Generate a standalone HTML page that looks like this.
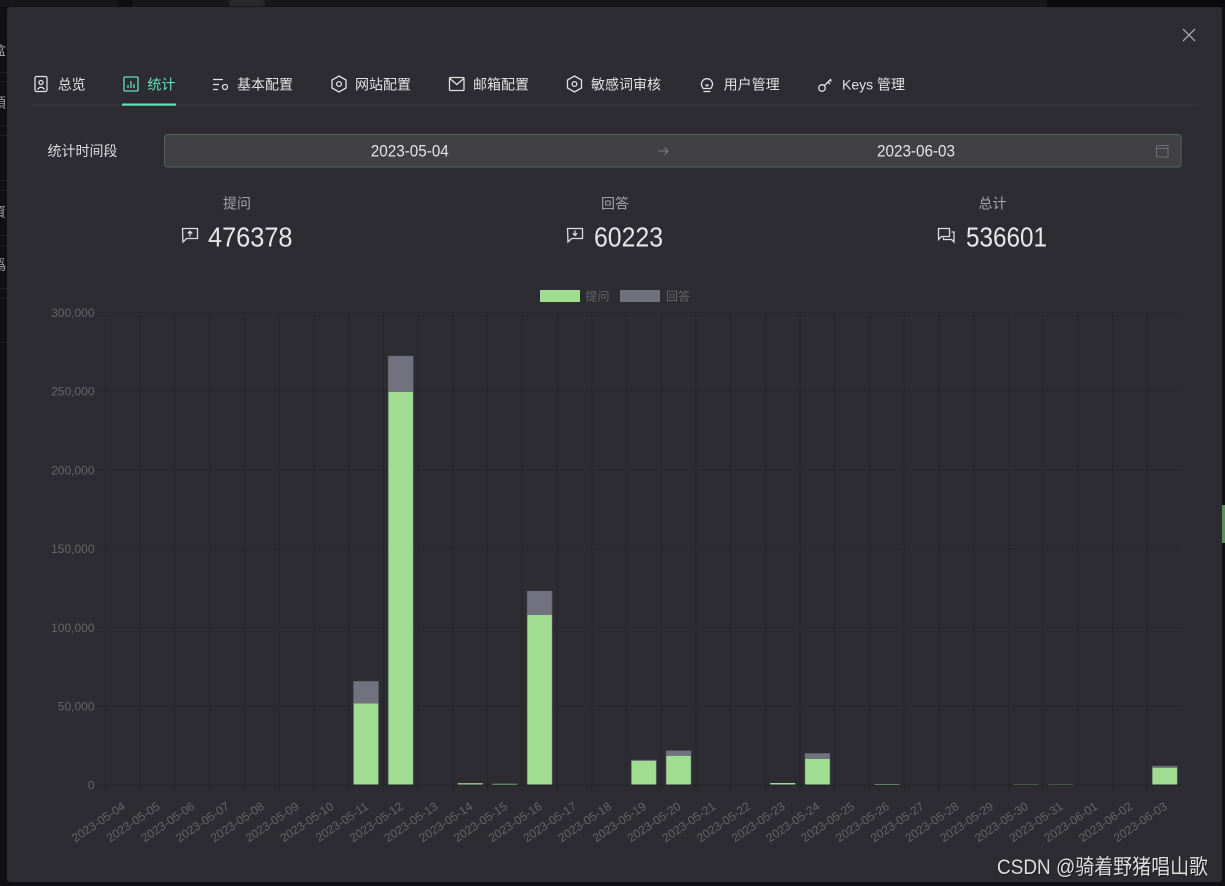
<!DOCTYPE html>
<html><head><meta charset="utf-8"><style>
html,body{margin:0;padding:0;background:#101014;width:1225px;height:886px;overflow:hidden}
svg{display:block}
text{font-family:"Liberation Sans","Noto Sans CJK SC",sans-serif}
</style></head><body>
<svg width="1225" height="886" viewBox="0 0 1225 886" xmlns="http://www.w3.org/2000/svg">
<!-- backdrop -->
<rect x="0" y="0" width="1225" height="886" fill="#101014"/>
<rect x="0" y="0" width="1047" height="7" fill="#17171a"/>
<rect x="1047" y="0" width="178" height="7" fill="#0b0b0d"/>
<rect x="118" y="0" width="15" height="7" fill="#0f0f11"/>
<rect x="229" y="0" width="36" height="6" rx="3" fill="#2a2a2e"/>
<rect x="1222" y="505" width="3" height="38" fill="#5b8f5b"/>
<g fill="#9a9a9a" font-size="14">
<text x="-8" y="55">盒</text><text x="-8" y="108">領</text><text x="-8" y="217">資</text><text x="-8" y="270">僞</text>
</g>
<g stroke="#202024" stroke-width="1">
<path d="M0 72.5H7M0 81.5H7M0 125.5H7M0 135.5H7M0 180.5H7M0 190.5H7M0 235.5H7M0 245.5H7M0 288.5H7M0 298.5H7M0 342.5H7"/>
</g>

<!-- modal -->
<rect x="7" y="7" width="1215" height="875" rx="3" fill="#2c2c32"/>

<!-- close -->
<path d="M1183 29L1195 41M1195 29L1183 41" stroke="#a6a6aa" stroke-width="1.3" fill="none"/>

<!-- tabs -->
<g font-size="14" fill="#e2e2e4">
<text x="57.7" y="89.5">总览</text>
<text x="147.4" y="89.5" fill="#63e2b7">统计</text>
<text x="237" y="89.5">基本配置</text>
<text x="355" y="89.5">网站配置</text>
<text x="473" y="89.5">邮箱配置</text>
<text x="591" y="89.5">敏感词审核</text>
<text x="723.6" y="89.5">用户管理</text>
<text x="842" y="89.5">Keys 管理</text>
</g>
<g fill="none" stroke="#e2e2e4" stroke-width="1.3">
<rect x="35" y="76.5" width="12" height="15" rx="1.5"/>
<circle cx="41" cy="82.5" r="2"/>
<path d="M37.5 89.5q3.5-4.5 7 0"/>
<path d="M213 79.5h10M213 84.5h6M213 89.5h5"/>
<circle cx="225" cy="87" r="2.5"/>
<path d="M339 76l7 4v8l-7 4-7-4v-8z"/>
<circle cx="339" cy="84" r="2.4"/>
<rect x="449.5" y="77.5" width="14.5" height="13" rx="1"/>
<path d="M449.8 78.5l7 6 7-6"/>
<path d="M574.5 76l7 4v8l-7 4-7-4v-8z"/>
<circle cx="574.5" cy="84" r="2.4"/>
<path d="M702 86.5a5.5 5.5 0 1 1 10 0l-1.2 2h-7.6z M703.5 91.5h7 M705.5 84.5l1.5 1.5 1.5-1.5"/>
<circle cx="822" cy="88" r="3.3"/>
<path d="M824.5 85.5L831 79M828 82l2 2M830 80l1.5 1.5"/>
</g>
<g fill="none" stroke="#63e2b7" stroke-width="1.3">
<rect x="124" y="77" width="14" height="14" rx="1"/>
<path d="M128 88v-3M131 88v-7M134 88v-4"/>
</g>
<rect x="32" y="104.5" width="1166" height="1" fill="#3c3c42"/>
<rect x="122" y="103.5" width="54" height="2.2" fill="#63e2b7"/>

<!-- date range -->
<text x="47.5" y="156" font-size="14" fill="#dcdcde">统计时间段</text>
<rect x="164.5" y="134.5" width="1016.5" height="32.5" rx="3" fill="#404045" stroke="#4f645d" stroke-width="1"/>
<text x="370.8" y="156.5" font-size="17" fill="#e4e4e6" textLength="78" lengthAdjust="spacingAndGlyphs">2023-05-04</text>
<path d="M658 151h10M664.5 147.5l3.5 3.5-3.5 3.5" fill="none" stroke="#7d7d82" stroke-width="1.1"/>
<text x="877" y="156.5" font-size="17" fill="#e4e4e6" textLength="78" lengthAdjust="spacingAndGlyphs">2023-06-03</text>
<rect x="1156.5" y="145.5" width="11.5" height="11.5" rx="1" fill="none" stroke="#6e6e74" stroke-width="1.1"/>
<path d="M1156.5 148.5h11.5" stroke="#6e6e74" stroke-width="1.1"/>

<!-- stats -->
<g font-size="14" fill="#a3a3a7" text-anchor="middle">
<text x="237" y="208.5">提问</text>
<text x="615" y="208.5">回答</text>
<text x="992.5" y="208.5">总计</text>
</g>
<g font-size="28" fill="#e6e6e8">
<text x="208" y="246.7" textLength="84.5" lengthAdjust="spacingAndGlyphs">476378</text>
<text x="594" y="246.7" textLength="69" lengthAdjust="spacingAndGlyphs">60223</text>
<text x="966" y="246.7" textLength="81" lengthAdjust="spacingAndGlyphs">536601</text>
</g>
<g fill="none" stroke="#dcdcde" stroke-width="1.3">
<path d="M182.5 228.5h15v10h-11l-3.5 3.5z"/>
<path d="M190 236.5v-5M187.8 233.5l2.2-2.2 2.2 2.2"/>
<path d="M567.5 228.5h15v10h-11l-3.5 3.5z"/>
<path d="M575 230.5v5M572.8 233.3l2.2 2.2 2.2-2.2"/>
<path d="M938.5 228.5h11v8h-8l-3 3z"/>
<path d="M951.5 232h2.5v10l-2.5-2.5h-8v-2"/>
</g>

<!-- legend -->
<rect x="540" y="290" width="40" height="12" fill="#a0dd91"/>
<text x="585.5" y="300.5" font-size="12" fill="#666">提问</text>
<rect x="620" y="290" width="40" height="12" fill="#71717f"/>
<text x="666" y="300.5" font-size="12" fill="#666">回答</text>

<!-- grid -->
<g stroke="#26262b" stroke-width="1" fill="none">
<path d="M97 312.5H1181.5M97 391.25H1181.5M97 470H1181.5M97 548.75H1181.5M97 627.5H1181.5M97 706.25H1181.5"/>
<path d="M105.5 312.5V793M140.23 312.5V793M174.96 312.5V793M209.69 312.5V793M244.42 312.5V793M279.15 312.5V793M313.88 312.5V793M348.61 312.5V793M383.34 312.5V793M418.07 312.5V793M452.8 312.5V793M487.53 312.5V793M522.26 312.5V793M556.99 312.5V793M591.72 312.5V793M626.45 312.5V793M661.18 312.5V793M695.91 312.5V793M730.64 312.5V793M765.37 312.5V793M800.1 312.5V793M834.83 312.5V793M869.56 312.5V793M904.29 312.5V793M939.02 312.5V793M973.75 312.5V793M1008.48 312.5V793M1043.21 312.5V793M1077.94 312.5V793M1112.67 312.5V793M1147.4 312.5V793"/>
</g>

<!-- bars -->
<g fill="#a0dd91">
<rect x="353.48" y="703.3" width="25" height="81.7"/>
<rect x="388.21" y="392" width="25" height="393"/>
<rect x="457.67" y="783.2" width="25" height="1.8"/>
<rect x="492.4" y="783.8" width="25" height="1.2"/>
<rect x="527.13" y="614.7" width="25" height="170.3"/>
<rect x="631.32" y="761" width="25" height="24"/>
<rect x="666.05" y="755.7" width="25" height="29.3"/>
<rect x="770.24" y="783" width="25" height="2"/>
<rect x="804.97" y="758.7" width="25" height="26.3"/>
<rect x="874.43" y="784" width="25" height="1"/>
<rect x="1152.27" y="767.7" width="25" height="17.3"/>
</g>
<g fill="#71717f">
<rect x="353.48" y="681.3" width="25" height="22"/>
<rect x="388.21" y="356" width="25" height="36"/>
<rect x="527.13" y="591" width="25" height="23.7"/>
<rect x="631.32" y="760" width="25" height="1"/>
<rect x="666.05" y="750.7" width="25" height="5"/>
<rect x="804.97" y="753.3" width="25" height="5.4"/>
<rect x="1152.27" y="766" width="25" height="1.7"/>
</g>
<g fill="#6f8f6a">
<rect x="1013.35" y="784" width="25" height="1"/>
<rect x="1048.08" y="784" width="25" height="1"/>
</g>
<g fill="none" stroke="#5f6468" stroke-opacity="0.6" stroke-width="0.8">
<rect x="353.48" y="681.3" width="25" height="103.7"/>
<rect x="388.21" y="356" width="25" height="429"/>
<rect x="527.13" y="591" width="25" height="194"/>
<rect x="631.32" y="760" width="25" height="25"/>
<rect x="666.05" y="750.7" width="25" height="34.3"/>
<rect x="804.97" y="753.3" width="25" height="31.7"/>
<rect x="1152.27" y="766" width="25" height="19"/>
</g>
<path d="M97 785H1181.5" stroke="#222226" stroke-width="1"/>

<!-- y labels -->
<g font-size="12" fill="#666" text-anchor="end">
<text x="94.5" y="316.8">300,000</text>
<text x="94.5" y="395.5">250,000</text>
<text x="94.5" y="474.3">200,000</text>
<text x="94.5" y="553">150,000</text>
<text x="94.5" y="631.8">100,000</text>
<text x="94.5" y="710.5">50,000</text>
<text x="94.5" y="789.3">0</text>
</g>

<!-- x labels -->
<g font-size="12" fill="#666" text-anchor="end">
<text transform="translate(123.9,805) rotate(-34)" y="4">2023-05-04</text>
<text transform="translate(158.6,805) rotate(-34)" y="4">2023-05-05</text>
<text transform="translate(193.3,805) rotate(-34)" y="4">2023-05-06</text>
<text transform="translate(228.05,805) rotate(-34)" y="4">2023-05-07</text>
<text transform="translate(262.8,805) rotate(-34)" y="4">2023-05-08</text>
<text transform="translate(297.5,805) rotate(-34)" y="4">2023-05-09</text>
<text transform="translate(332.25,805) rotate(-34)" y="4">2023-05-10</text>
<text transform="translate(367,805) rotate(-34)" y="4">2023-05-11</text>
<text transform="translate(401.7,805) rotate(-34)" y="4">2023-05-12</text>
<text transform="translate(436.45,805) rotate(-34)" y="4">2023-05-13</text>
<text transform="translate(471.2,805) rotate(-34)" y="4">2023-05-14</text>
<text transform="translate(505.9,805) rotate(-34)" y="4">2023-05-15</text>
<text transform="translate(540.6,805) rotate(-34)" y="4">2023-05-16</text>
<text transform="translate(575.35,805) rotate(-34)" y="4">2023-05-17</text>
<text transform="translate(610.1,805) rotate(-34)" y="4">2023-05-18</text>
<text transform="translate(644.8,805) rotate(-34)" y="4">2023-05-19</text>
<text transform="translate(679.55,805) rotate(-34)" y="4">2023-05-20</text>
<text transform="translate(714.3,805) rotate(-34)" y="4">2023-05-21</text>
<text transform="translate(749,805) rotate(-34)" y="4">2023-05-22</text>
<text transform="translate(783.7,805) rotate(-34)" y="4">2023-05-23</text>
<text transform="translate(818.45,805) rotate(-34)" y="4">2023-05-24</text>
<text transform="translate(853.2,805) rotate(-34)" y="4">2023-05-25</text>
<text transform="translate(887.9,805) rotate(-34)" y="4">2023-05-26</text>
<text transform="translate(922.65,805) rotate(-34)" y="4">2023-05-27</text>
<text transform="translate(957.4,805) rotate(-34)" y="4">2023-05-28</text>
<text transform="translate(992.1,805) rotate(-34)" y="4">2023-05-29</text>
<text transform="translate(1026.85,805) rotate(-34)" y="4">2023-05-30</text>
<text transform="translate(1061.55,805) rotate(-34)" y="4">2023-05-31</text>
<text transform="translate(1096.3,805) rotate(-34)" y="4">2023-06-01</text>
<text transform="translate(1131,805) rotate(-34)" y="4">2023-06-02</text>
<text transform="translate(1165.75,805) rotate(-34)" y="4">2023-06-03</text>
</g>

<!-- watermark -->
<text x="998" y="875" font-size="21" fill="#1a1a1c" textLength="211" lengthAdjust="spacingAndGlyphs">CSDN @骑着野猪唱山歌</text>
<text x="997" y="874" font-size="21" fill="#dedee0" textLength="211" lengthAdjust="spacingAndGlyphs">CSDN @骑着野猪唱山歌</text>
</svg>
</body></html>
